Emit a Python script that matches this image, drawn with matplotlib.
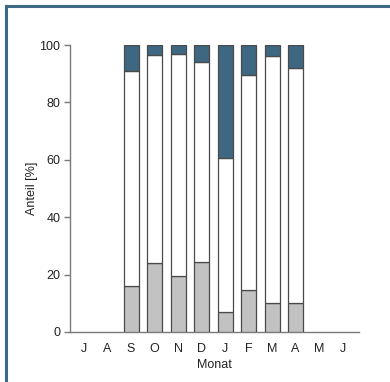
import matplotlib
matplotlib.use("Agg")
import matplotlib.pyplot as plt
import numpy as np
from matplotlib.lines import Line2D

plt.rcParams['font.family'] = ['Liberation Sans', 'DejaVu Sans']

months = ["J", "A", "S", "O", "N", "D", "J", "F", "M", "A", "M", "J"]
bar_idx = [2, 3, 4, 5, 6, 7, 8, 9]
gray_share = [16, 24, 19.5, 24.5, 7, 14.5, 10, 10]
white_top = [91, 96.5, 96.8, 94, 60.7, 89.7, 96, 92]
total = [100, 100, 100, 100, 100, 100, 100, 100]

white_share = [w - g for w, g in zip(white_top, gray_share)]
blue_share = [t - w for t, w in zip(total, white_top)]

fig = plt.figure(figsize=(3.9, 3.82), dpi=100)
ax = fig.add_axes([70 / 390, 1 - 332 / 382, (359 - 70) / 390, (332 - 45) / 382])

w = 0.64
edge = "#4a4a4a"
ax.bar(bar_idx, gray_share, width=w, color="#c2c2c2", edgecolor=edge, linewidth=0.9, zorder=3)
ax.bar(bar_idx, white_share, bottom=gray_share, width=w, color="white", edgecolor=edge, linewidth=0.9, zorder=3)
ax.bar(bar_idx, blue_share, bottom=white_top, width=w, color="#3e6782", edgecolor=edge, linewidth=0.9, zorder=3)

ax.set_xlim(-0.6, 11.7)
ax.set_ylim(0, 100)
ax.set_xticks(range(len(months)))
ax.set_xticklabels(months)
ax.set_yticks([0, 20, 40, 60, 80, 100])

for s in ["top", "right"]:
    ax.spines[s].set_visible(False)
for s in ["left", "bottom"]:
    ax.spines[s].set_color("#7a7a7a")
    ax.spines[s].set_linewidth(1.0)
ax.tick_params(axis="x", length=0, pad=8, labelsize=9, colors="#222222")
ax.tick_params(axis="y", length=4, width=1, color="#7a7a7a", pad=3, labelsize=9, labelcolor="#222222")

ax.set_xlabel("Monat", fontsize=9, color="#222222", labelpad=3)
ax.set_ylabel("Anteil [%]", fontsize=9, color="#222222", labelpad=1)

# frame lines along the top and left edge of the figure
border = "#3f6a86"
fig.add_artist(Line2D([6 / 390, 1], [1 - 6 / 382, 1 - 6 / 382], color=border, linewidth=2.2, transform=fig.transFigure))
fig.add_artist(Line2D([6 / 390, 6 / 390], [0, 1 - 6 / 382], color=border, linewidth=2.2, transform=fig.transFigure))

fig.savefig("out.png", dpi=100)
